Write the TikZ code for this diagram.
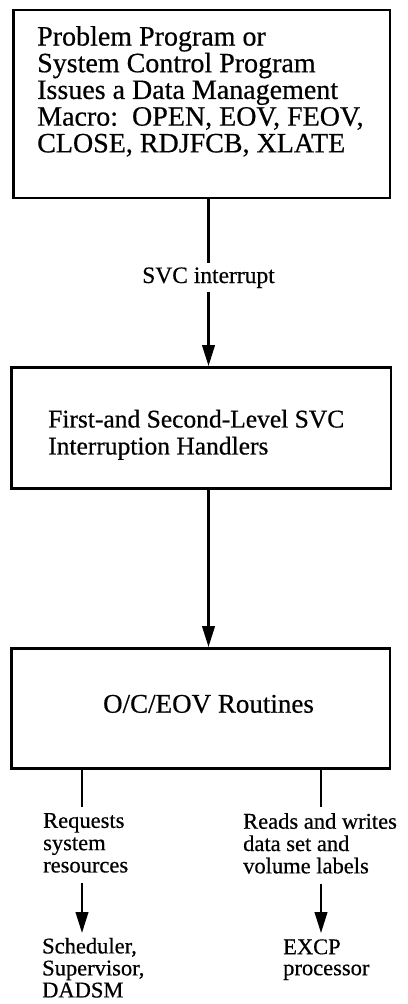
\documentclass[tikz,border=0pt]{standalone}
\usepackage{fontspec}
\setmainfont{Liberation Serif}[FakeBold=0.5]
\usetikzlibrary{arrows.meta}
\begin{document}
\begin{tikzpicture}[x=1pt,y=-1pt,
  box/.style={draw, line width=2.4pt, rectangle, inner sep=0pt},
  boxtext/.style={align=left, inner sep=0pt},
  lbl/.style={font=\fontsize{22.5}{22.3}\selectfont, align=left, inner sep=0pt},
  link/.style={line width=2.4pt},
  flow/.style={link, -{Triangle[length=21pt,width=12.5pt]}}]

% page frame
\fill[white] (0,0) rectangle (407,1004);
\useasboundingbox (0,0) rectangle (407,1004);

% column positions of the lower branches
\coordinate (lx) at (82,0);
\coordinate (rx) at (321,0);

% boxes
\node[box, minimum width=376.7pt, minimum height=188pt] (b1) at (201.7,104) {};
\node[box, minimum width=379.3pt, minimum height=121pt] (b2) at (201.3,427.8) {};
\node[box, minimum width=378.3pt, minimum height=120pt] (b3) at (200.8,708.3) {};

% box texts
\node[boxtext, font=\fontsize{28}{26.7}\selectfont, anchor=north west] (t1) at (37,25.9)
  {Problem Program or\\System Control Program\\Issues a Data Management\\Macro:\ \ OPEN, EOV, FEOV,\\CLOSE, RDJFCB, XLATE};
\node[boxtext, font=\fontsize{25.5}{27}\selectfont, anchor=north west] (t2) at (48,409.6)
  {First-and Second-Level SVC\\Interruption Handlers};
\node[boxtext, font=\fontsize{27}{27}\selectfont, anchor=base] (t3) at (208.5,712.7) {O/C/EOV Routines};

% interrupt label on the first connector
\node[font=\fontsize{23.5}{23.5}\selectfont, inner sep=4pt, anchor=base] (svc) at (208.5,283) {SVC interrupt};

% branch labels and targets
\node[lbl, anchor=north west] (req) at (43,812.9)
  {Requests\\system\\resources};
\node[lbl, anchor=north west] (rw) at (243,812.9)
  {Reads and writes\\data set and\\volume labels};
\node[lbl, font=\fontsize{22.5}{22}\selectfont, anchor=north west] (sch) at (42,937.6)
  {Scheduler,\\Supervisor,\\DADSM};
\node[lbl, font=\fontsize{22.5}{21}\selectfont, anchor=north west] (excp) at (283,939.1)
  {EXCP\\processor};

% connectors
\draw[link] (b1.south -| svc) -- (svc.north);
\draw[flow] (svc.south) -- (b2.north -| svc.south);
\draw[flow] (b2.south -| svc) -- (b3.north -| svc);
\draw[link, shorten >=6pt] (b3.south -| lx) -- (req.north -| lx);
\draw[link, shorten >=6pt] (b3.south -| rx) -- (rw.north -| rx);
\draw[flow, shorten <=10pt, shorten >=4.6pt] (req.south -| lx) -- (sch.north -| lx);
\draw[flow, shorten <=10pt, shorten >=6pt] (rw.south -| rx) -- (excp.north -| rx);
\end{tikzpicture}
\end{document}
